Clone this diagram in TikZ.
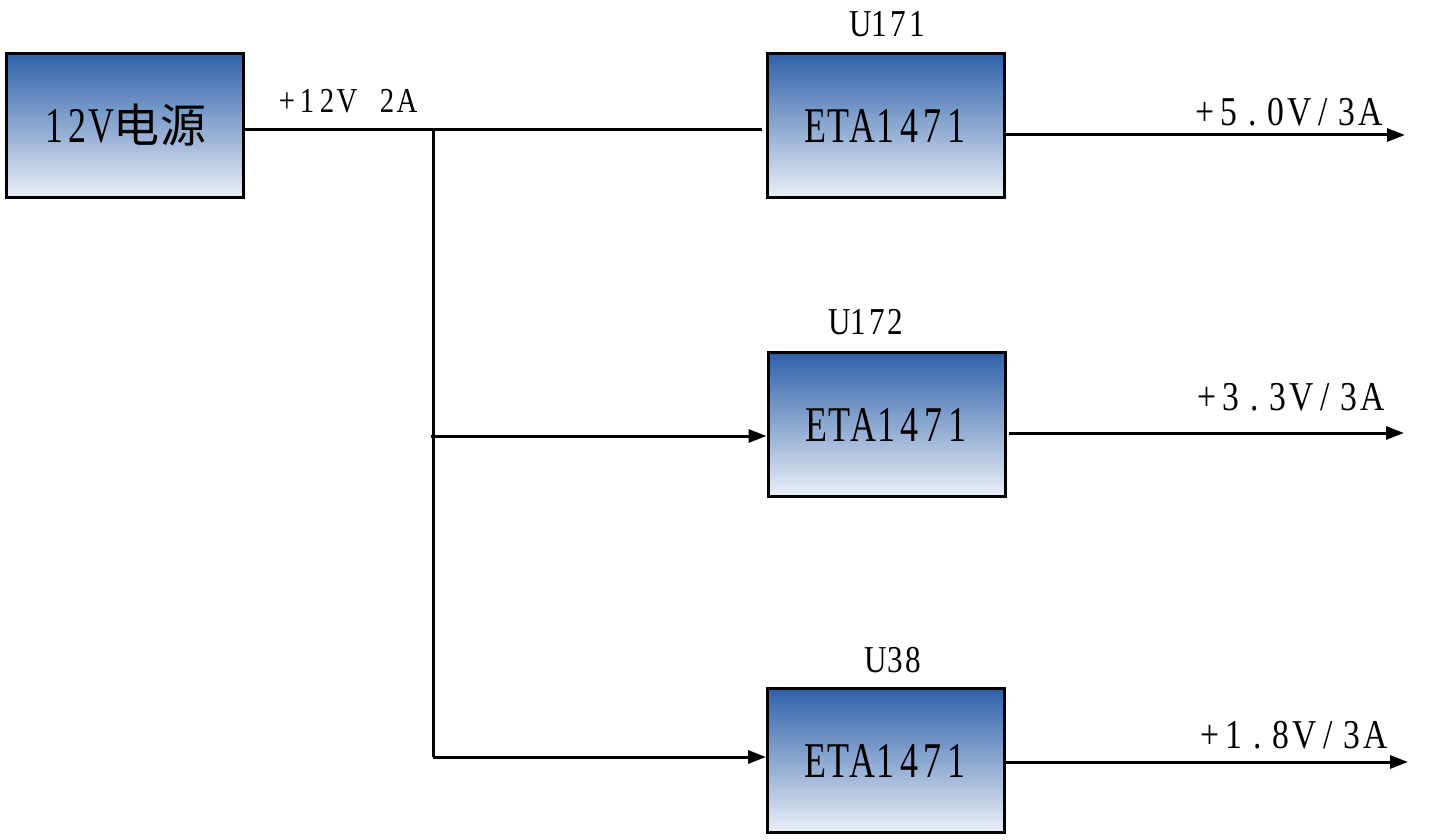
\documentclass[tikz,border=0pt]{standalone}
\usepackage{fontspec}
\setmainfont{Liberation Serif}
\newfontfamily\narrowf[FakeStretch=0.72]{Liberation Serif}
\newfontfamily\labf[FakeStretch=0.82]{Liberation Serif}
\newfontfamily\cjk{Noto Sans CJK SC}
\usetikzlibrary{arrows.meta,calc}
\ExplSyntaxOn
\NewDocumentCommand\mono{mm}{\tl_map_inline:nn{#2}{\makebox[#1]{##1}}}
\ExplSyntaxOff
\definecolor{topblue}{RGB}{46,97,170}
\definecolor{botblue}{RGB}{234,239,247}
\tikzset{
  blk/.style={draw=black, line width=1.5pt, top color=topblue, bottom color=botblue,
    minimum width=118.5pt, minimum height=72pt, inner sep=0pt},
  wire/.style={line width=1.5pt},
  arr/.style={line width=1.5pt, -{Triangle[length=9pt,width=6.5pt]}},
  big/.style={font=\narrowf\fontsize{25}{30}\selectfont},
  lab/.style={font=\labf\fontsize{19}{22}\selectfont, anchor=base, inner sep=0pt},
  outl/.style={font=\labf\fontsize{20.5}{24}\selectfont, anchor=base, inner sep=0pt}
}
\begin{document}
\begin{tikzpicture}[x=0.5pt,y=-0.5pt]
\useasboundingbox (0,0) rectangle (1432,840);
% blocks
\node[blk, big] (src) at (125,125.5) {\mono{11.75pt}{12V}\makebox[23.5pt]{\cjk\fontsize{23}{26}\selectfont 电}\makebox[23.5pt]{\cjk\fontsize{23}{26}\selectfont 源}};
\node[blk, big] (u1) at (886,125.5) {\mono{11.75pt}{ETA1471}};
\node[blk, big] (u2) at (886.5,424.5) {\mono{11.75pt}{ETA1471}};
\node[blk, big] (u3) at (886,760.5) {\mono{11.75pt}{ETA1471}};
% labels
\node[lab] (l1) at (889,37) {\mono{9.4pt}{U171}};
\node[lab] (l2) at (867.5,335) {\mono{9.4pt}{U172}};
\node[lab] (l3) at (895,672) {\mono{9.4pt}{U38}};
\node[lab, font=\labf\fontsize{17.5}{20}\selectfont] (in) at (347,113) {\mono{10pt}{+12V~2A}};
% coordinates
\coordinate (j1) at (433,130);
\coordinate (jb) at (433,757);
\coordinate (b2) at (431,436);
\coordinate (o1) at (1405,135);
\coordinate (o2) at (1404,433);
\coordinate (o3) at (1408,762);
% wires
\draw[wire] (src.east |- j1) -- ($(u1.west |- j1)+(-4,0)$);
\draw[wire] (433,128) -- (jb);
\draw[arr] (b2) -- (u2.west |- b2);
\draw[arr] (jb) -- (u3.west |- jb);
\draw[arr] (u1.east |- o1) -- (o1);
\draw[arr] ($(u2.east |- o2)+(2,0)$) -- (o2);
\draw[arr] (u3.east |- o3) -- (o3);
% output labels
\node[outl] (v1) at (1288,126) {\mono{11.8pt}{+5.0V/3A}};
\node[outl] (v2) at (1290,410) {\mono{11.8pt}{+3.3V/3A}};
\node[outl] (v3) at (1293,748) {\mono{11.8pt}{+1.8V/3A}};
\end{tikzpicture}
\end{document}
